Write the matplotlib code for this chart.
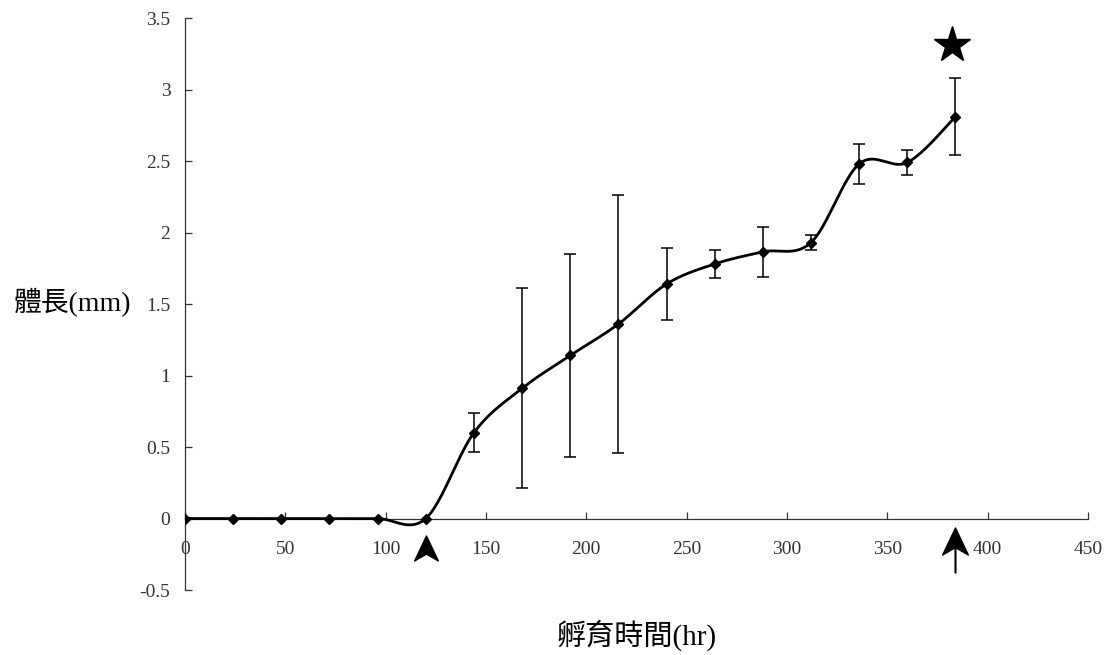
import numpy as np
import matplotlib.pyplot as plt
from matplotlib.path import Path
from matplotlib.transforms import ScaledTranslation

# data
hours = [0, 24, 48, 72, 96, 120, 144, 168, 192, 216, 240, 264, 288, 312, 336, 360, 384]
length_mm = [0, 0, 0, 0, 0, 0, 0.60, 0.91, 1.14, 1.36, 1.64, 1.78, 1.865, 1.93, 2.48, 2.49, 2.81]
err_mm = [0, 0, 0, 0, 0, 0, 0.135, 0.70, 0.71, 0.90, 0.25, 0.10, 0.175, 0.055, 0.14, 0.088, 0.27]
arrow_hours = [120, 384]
star_hour = 384
xticks = [0, 50, 100, 150, 200, 250, 300, 350, 400, 450]
yticks = [-0.5, 0, 0.5, 1, 1.5, 2, 2.5, 3, 3.5]
ytick_labels = ['-0.5', '0', '0.5', '1', '1.5', '2', '2.5', '3', '3.5']

FONT = ['Liberation Serif', 'Noto Sans CJK TC']
plt.rcParams['font.family'] = FONT


def smooth(xs, ys, n=40):
    # Excel style smoothed line: Catmull-Rom through the points as cubic Beziers
    p = np.column_stack([xs, ys]).astype(float)
    p = np.vstack([p[0], p, p[-1]])
    out = []
    t = np.linspace(0, 1, n)[:, None]
    for i in range(1, len(p) - 2):
        p0, p1, p2, p3 = p[i - 1], p[i], p[i + 1], p[i + 2]
        c1 = p1 + (p2 - p0) / 6
        c2 = p2 - (p3 - p1) / 6
        seg = ((1 - t) ** 3) * p1 + 3 * ((1 - t) ** 2) * t * c1 + 3 * (1 - t) * t ** 2 * c2 + t ** 3 * p2
        out.append(seg)
    out = np.vstack(out)
    return out[:, 0], out[:, 1]


fig = plt.figure(figsize=(11.09, 6.55), dpi=100)
ax = fig.add_axes([0.1668, 0.0992, 0.8142, 0.8733])

sx, sy = smooth(hours, length_mm)
ax.plot(sx, sy, color='black', lw=2.0, solid_capstyle='round', zorder=3)
ax.plot(hours, length_mm, 'D', color='black', ms=4.8, zorder=4)

has_err = [e > 0 for e in err_mm]
ax.errorbar(np.array(hours)[has_err], np.array(length_mm)[has_err], yerr=np.array(err_mm)[has_err],
            fmt='none', ecolor='black', elinewidth=1.1, capsize=4.5, capthick=1.1, zorder=2)

# notched arrow heads under the x axis
stealth = Path([(0, 1), (0.95, -1), (0, -0.45), (-0.95, -1), (0, 1)],
               [Path.MOVETO, Path.LINETO, Path.LINETO, Path.LINETO, Path.CLOSEPOLY])
for i, h in enumerate(arrow_hours):
    dy = -21 if i == 0 else -16
    off = ax.transData + ScaledTranslation(0, dy / 72, fig.dpi_scale_trans)
    ax.plot([h], [0], marker=stealth, color='black', ms=18 if i == 0 else 19.5,
            transform=off, clip_on=False, zorder=5)
    if i == 1:
        ax.annotate('', xy=(h, 0), xycoords='data', xytext=(0, -39), textcoords='offset points',
                    arrowprops=dict(arrowstyle='-', lw=1.5, color='black',
                                    shrinkA=0, shrinkB=16), annotation_clip=False)

# star above the last point
star_y = length_mm[hours.index(star_hour)] + err_mm[hours.index(star_hour)]
off = ax.transData + ScaledTranslation(-3 / 100, 24 / 72, fig.dpi_scale_trans)
ax.plot([star_hour], [star_y], marker='*', color='black', ms=27, transform=off, clip_on=False)

ax.set_xlim(0, 450)
ax.set_ylim(-0.5, 3.5)
ax.spines['top'].set_visible(False)
ax.spines['right'].set_visible(False)
ax.spines['bottom'].set_position(('data', 0))
for s in ['left', 'bottom']:
    ax.spines[s].set_linewidth(0.9)
    ax.spines[s].set_color('#333333')

ax.set_xticks(xticks)
ax.set_xticklabels([str(v) for v in xticks])
ax.set_yticks(yticks)
ax.set_yticklabels(ytick_labels)
ax.tick_params(axis='x', direction='in', length=5, width=0.9, pad=16, labelsize=14, colors='#333333')
ax.tick_params(axis='y', direction='in', length=5, width=0.9, pad=10.5, labelsize=14, colors='#333333')
for lab in ax.get_xticklabels() + ax.get_yticklabels():
    lab.set_color('#333333')

ax.set_ylabel('體長(mm)', rotation=0, fontsize=20, ha='center', va='center')
ax.yaxis.set_label_coords(-0.124, 0.502)
ax.set_xlabel('孵育時間(hr)', fontsize=21, ha='center', va='center')
ax.xaxis.set_label_coords(0.5006, -0.079)

fig.savefig('out.png', dpi=100)
